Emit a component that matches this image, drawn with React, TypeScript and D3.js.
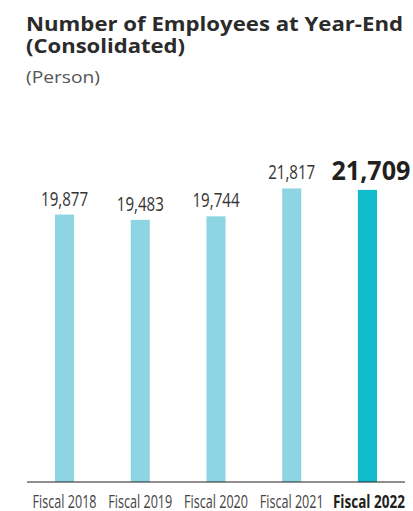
import React from "react";
import * as d3 from "d3";

const categories = ["Fiscal 2018", "Fiscal 2019", "Fiscal 2020", "Fiscal 2021", "Fiscal 2022"];
const values = [19877, 19483, 19744, 21817, 21709];
const highlight = [false, false, false, false, true];
const titleLines = ["Number of Employees at Year-End", "(Consolidated)"];
const unitLabel = "(Person)";

const W = 413;
const H = 511;

export default function App() {
  const x = d3.scaleBand<string>().domain(categories).range([27, 405]).paddingInner(0.748).paddingOuter(0.37);
  const y = d3.scaleLinear().domain([0, 22000]).range([482, 186]);
  const fmt = d3.format(",");
  const bw = x.bandwidth();
  const titleLen = [377, 159];

  return (
    <svg width={W} height={H} style={{ position: "absolute", left: 0, top: 0, background: "#fff" }}>
      <g fontFamily="'Open Sans', 'Liberation Sans', Arial, sans-serif">
        {titleLines.map((t, i) => (
          <text key={t} x={26} y={31 + i * 22} fontSize={20} fontWeight="bold" fill="#2b2b2b"
            textLength={titleLen[i]} lengthAdjust="spacingAndGlyphs">
            {t}
          </text>
        ))}
        <text x={26} y={83} fontSize={16} fill="#555" textLength={74} lengthAdjust="spacingAndGlyphs">{unitLabel}</text>
        {categories.map((c, i) => {
          const cx = (x(c) as number) + bw / 2;
          const top = y(values[i]);
          const hi = highlight[i];
          return (
            <g key={c}>
              <rect x={x(c)} y={top} width={bw} height={y(0) - top} fill={hi ? "#10bbcb" : "#8dd5e3"} />
              <text
                x={hi ? cx + 3.5 : cx}
                y={top - (hi ? 10 : 9)}
                textAnchor="middle"
                fontSize={hi ? 26.5 : 20}
                fontWeight={hi ? "bold" : "normal"}
                fill={hi ? "#231f20" : "#333"}
                textLength={hi ? 79 : 47}
                lengthAdjust="spacingAndGlyphs"
              >
                {fmt(values[i])}
              </text>
              <text
                x={hi ? cx + 1.5 : cx}
                y={507.5}
                textAnchor="middle"
                fontSize={17.5}
                fontWeight={hi ? "bold" : "normal"}
                fill={hi ? "#231f20" : "#444"}
                textLength={hi ? 72 : 64}
                lengthAdjust="spacingAndGlyphs"
              >
                {c}
              </text>
            </g>
          );
        })}
        <line x1={27} x2={405} y1={482} y2={482} stroke="#231f20" strokeWidth={1} />
      </g>
    </svg>
  );
}
